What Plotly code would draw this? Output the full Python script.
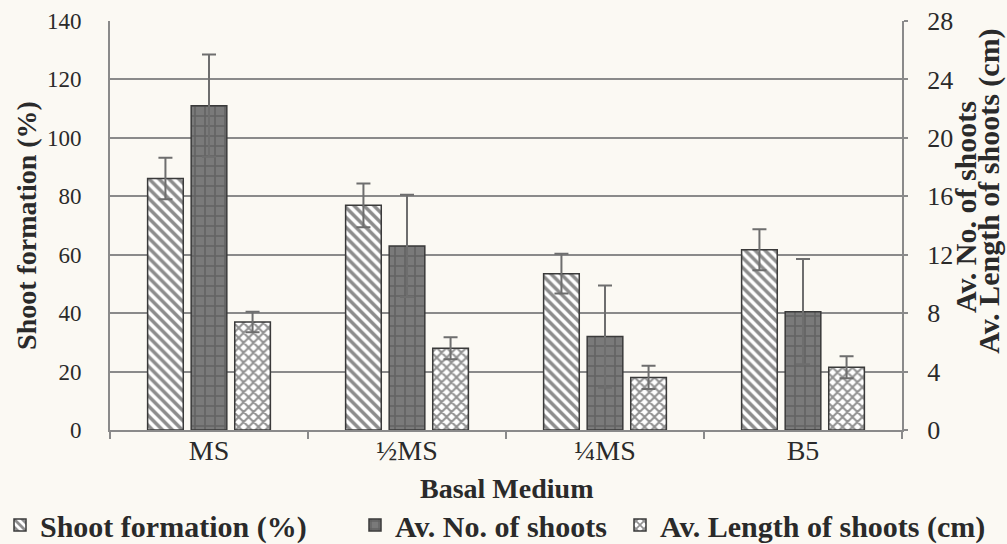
import plotly.graph_objects as go

categories = ["MS", "½MS", "¼MS", "B5"]
shoot_formation = [86.1, 76.9, 53.5, 61.7]
shoot_formation_err = [7.1, 7.5, 6.8, 7.0]
num_shoots = [22.2, 12.6, 6.4, 8.1]
num_shoots_err = [3.5, 3.5, 3.5, 3.6]
len_shoots = [7.4, 5.6, 3.6, 4.3]
len_shoots_err = [0.7, 0.75, 0.8, 0.75]

left_ticks = [0, 20, 40, 60, 80, 100, 120, 140]
right_ticks = [0, 4, 8, 12, 16, 20, 24, 28]
x_title = "Basal Medium"
right_title_lines = ["Av. No. of shoots", "Av. Length of shoots (cm)"]

FONT = "Liberation Serif"
BG = "#fbf9f3"
GRID = "#8a8a8a"
ERR = "#6e6e6e"
TXT = "#2a2a2a"

fig = go.Figure()

fig.add_trace(go.Bar(
    name="Shoot formation (%)", x=categories, y=shoot_formation,
    width=0.18, offset=-0.31, yaxis="y", legend="legend",
    marker=dict(color="white", line=dict(color="#3a3a3a", width=1.5),
                pattern=dict(shape="\\", fgcolor="#1a1a1a", bgcolor="white", size=7, solidity=0.5)),
    error_y=dict(type="data", array=shoot_formation_err, visible=True, color=ERR, thickness=2, width=7),
))
fig.add_trace(go.Bar(
    name="Av. No. of shoots", x=categories, y=num_shoots,
    width=0.18, offset=-0.09, yaxis="y2", legend="legend2",
    marker=dict(color="#727272", line=dict(color="#3a3a3a", width=1.5),
                pattern=dict(shape="+", fgcolor="#4a4a4a", bgcolor="#7a7a7a", size=10, solidity=0.3)),
    error_y=dict(type="data", array=num_shoots_err, visible=True, color=ERR, thickness=2, width=7),
))
fig.add_trace(go.Bar(
    name="Av. Length of shoots (cm)", x=categories, y=len_shoots,
    width=0.18, offset=0.13, yaxis="y2", legend="legend3",
    marker=dict(color="white", line=dict(color="#3a3a3a", width=1.5),
                pattern=dict(shape="x", fgcolor="#222222", bgcolor="white", size=7, solidity=0.5)),
    error_y=dict(type="data", array=len_shoots_err, visible=True, color=ERR, thickness=2, width=7),
))

annotations = []
for line, xp, yp in zip(right_title_lines, [1.0795, 1.1105], [0.545, 0.584]):
    annotations.append(dict(
        text="<b>%s</b>" % line, xref="paper", yref="paper", x=xp, y=yp,
        xanchor="center", yanchor="middle", textangle=-90, showarrow=False,
        font=dict(family=FONT, size=30, color=TXT),
    ))
annotations.append(dict(
    text="<b>%s</b>" % x_title, xref="paper", yref="paper", x=0.5, y=-0.142,
    xanchor="center", yanchor="middle", showarrow=False,
    font=dict(family=FONT, size=28, color=TXT),
))

def legend_box(xpx):
    return dict(
        orientation="h", xref="container", yref="container",
        x=max(xpx, 0) / 1007, xanchor="left", y=0.035, yanchor="middle",
        font=dict(family=FONT, size=30, color=TXT, weight="bold"),
        bgcolor="rgba(0,0,0,0)", itemwidth=30, borderwidth=0,
    )

fig.update_layout(
    width=1007, height=544,
    paper_bgcolor=BG, plot_bgcolor=BG,
    margin=dict(l=110, r=105, t=21, b=114, autoexpand=False),
    font=dict(family=FONT, size=22, color=TXT),
    xaxis=dict(
        type="category", range=[-0.5, 3.5], automargin=False,
        showline=True, linecolor=GRID, linewidth=2,
        ticks="outside", tickcolor=GRID, ticklen=7, tickwidth=2,
        tickson="boundaries", showgrid=False, ticklabelstandoff=-6,
        tickfont=dict(family=FONT, size=28, color=TXT),
    ),
    yaxis=dict(
        range=[0, 140], tickvals=left_ticks, automargin=False,
        showline=True, linecolor=GRID, linewidth=2,
        ticks="", ticklabelstandoff=22,
        showgrid=True, gridcolor=GRID, gridwidth=2, zeroline=False,
        tickfont=dict(family=FONT, size=23, color=TXT),
        title=dict(text="<b>Shoot formation (%)</b>", font=dict(family=FONT, size=28, color=TXT), standoff=2),
    ),
    yaxis2=dict(
        range=[0, 28], tickvals=right_ticks, overlaying="y", side="right", automargin=False,
        showline=True, linecolor=GRID, linewidth=2,
        ticks="outside", tickcolor=GRID, ticklen=4, tickwidth=2, ticklabelstandoff=14,
        showgrid=False, zeroline=False,
        tickfont=dict(family=FONT, size=26, color=TXT),
    ),
    legend=legend_box(0),
    legend2=legend_box(355),
    legend3=legend_box(620),
    annotations=annotations,
    showlegend=True,
)

fig.write_html("out.html")
